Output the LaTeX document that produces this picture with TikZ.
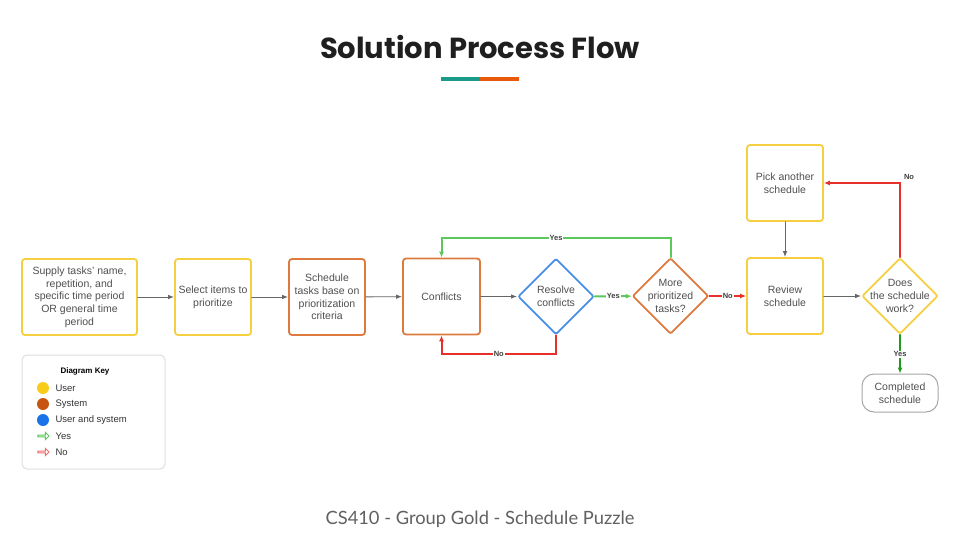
\documentclass[tikz,border=0pt]{standalone}
\usepackage{fontspec}
\setmainfont{Liberation Sans}
\newfontfamily\titlefont{Poppins}
\newfontfamily\footfont{Lato}
\usetikzlibrary{arrows.meta, shapes.geometric, shapes.arrows, positioning}

\definecolor{useryellow}{HTML}{F5CF40}
\definecolor{sysorange}{HTML}{DD7A3E}
\definecolor{bothblue}{HTML}{4A8FE7}
\definecolor{yesgreen}{HTML}{5CC75C}
\definecolor{nored}{HTML}{E8302A}
\definecolor{darkyes}{HTML}{1E9A1E}
\definecolor{txtgray}{HTML}{505050}
\definecolor{keyyellow}{HTML}{F8CC1B}
\definecolor{keyorange}{HTML}{C75512}
\definecolor{keyblue}{HTML}{1A73E8}
\definecolor{barteal}{HTML}{1A9A88}
\definecolor{barorange}{HTML}{E8590C}

\tikzset{
	box/.style={draw, rectangle, rounded corners=3pt, line width=1.8pt, minimum width=76pt, minimum height=76pt, align=center, text=txtgray, font=\fontsize{10.5}{12.7}\selectfont, inner sep=2pt},
	decision/.style={draw, diamond, rounded corners=2pt, line width=1.8pt, minimum width=76pt, minimum height=76pt, inner sep=0pt},
	inside/.style={align=center, text=txtgray, font=\fontsize{10.5}{12.7}\selectfont},
	flow/.style={draw=gray!80!black, line width=0.9pt, -{Latex[length=6pt,width=4.5pt]}},
	yesline/.style={draw=yesgreen, line width=2pt, -{Latex[length=6pt,width=5pt]}},
	noline/.style={draw=nored, line width=2pt, -{Latex[length=6pt,width=5pt]}},
	lbl/.style={font=\fontsize{7.5}{8}\selectfont\bfseries, text=black!75, fill=white, inner sep=1pt},
	dot/.style={circle, minimum size=12pt, inner sep=0pt},
	keytxt/.style={font=\fontsize{9.5}{10}\selectfont, text=black!80, anchor=west},
	keyarrow/.style={single arrow, draw, line width=0.9pt, fill=white, minimum height=11pt, minimum width=7pt, single arrow head extend=1.5pt, inner sep=0pt}
}

\begin{document}
\begin{tikzpicture}[x=1pt, y=-1pt, line cap=round]

\useasboundingbox[fill=white] (0,0) rectangle (960,540);

% Title
\node[font=\titlefont\bfseries\fontsize{29}{34}\selectfont, text=black!88] (title) at (480,47) {Solution Process Flow};
\draw[barteal, line width=4pt, line cap=butt] (441,79) -- (480,79);
\draw[barorange, line width=4pt, line cap=butt] (480,79) -- (519,79);

% Boxes
\node[box, draw=useryellow, minimum width=115pt] (supply) at (79.5,297) {Supply tasks' name,\\repetition, and\\specific time period\\OR general time\\period};
\node[box, draw=useryellow] (select) at (213,297) {Select items to\\prioritize};
\node[box, draw=sysorange] (sched) at (327,297) {Schedule\\tasks base on\\prioritization\\criteria};
\node[box, draw=sysorange, minimum width=77pt] (conf) at (441.5,296.5) {Conflicts};
\node[decision, draw=bothblue, label={[inside]center:Resolve\\conflicts}] (resolve) at (556,296.5) {};
\node[decision, draw=sysorange, label={[inside]center:More\\prioritized\\tasks?}] (more) at (670.5,296) {};
\node[box, draw=useryellow] (review) at (785,296) {Review\\schedule};
\node[box, draw=useryellow] (pick) at (785,183) {Pick another\\schedule};
\node[decision, draw=useryellow, label={[inside]center:Does\\the schedule\\work?}] (does) at (900,296) {};
\node[draw=gray!70, line width=1pt, rounded corners=12pt, minimum width=76pt, minimum height=38pt, align=center, text=txtgray, font=\fontsize{10.5}{12.7}\selectfont] (done) at (900,393) {Completed\\schedule};

% Paths
\draw[flow] (supply) -- (select);
\draw[flow] (select) -- (sched);
\draw[flow] (sched) -- (conf);
\draw[flow] (conf) -- (resolve);
\draw[yesline] (resolve) -- node[lbl]{Yes} (more);
\draw[noline] (more) -- node[lbl]{No} (review);
\draw[yesline] (more.north) -- ++(0,-19) -| node[lbl, pos=0.25]{Yes} (conf.north);
\draw[noline] (resolve.south) -- ++(0,19) -| node[lbl, pos=0.25]{No} (conf.south);
\draw[flow] (review) -- (does);
\draw[flow] (pick) -- (review);
\draw[noline] (does.north) |- node[lbl, pos=0.5, anchor=south west, fill=none, xshift=2pt, yshift=1pt]{No} (pick.east);
\draw[draw=darkyes, line width=2pt, -{Latex[length=6pt,width=5pt]}] (does.south) -- node[lbl]{Yes} (done.north);

% Diagram key
\draw[gray!25, line width=1pt, rounded corners=5pt] (22,355) rectangle (165,469);
\node[font=\fontsize{8}{9}\selectfont\bfseries] (keytitle) at (85,371) {Diagram Key};
\node[dot, fill=keyyellow] (kuser) at (43,388) {};
\node[dot, fill=keyorange] (ksys) at (43,404) {};
\node[dot, fill=keyblue] (kboth) at (43,420) {};
\node[keyarrow, draw=yesgreen] (kyes) at (43,436) {};
\node[keyarrow, draw=nored!70] (kno) at (43,452) {};
\node[keytxt] at (52,388) {User};
\node[keytxt] at (52,404) {System};
\node[keytxt] at (52,420) {User and system};
\node[keytxt] at (52,436) {Yes};
\node[keytxt] at (52,452) {No};

% Footer
\node[font=\footfont\fontsize{18.3}{22}\selectfont, text=txtgray!90] (footer) at (480,519) {CS410 - Group Gold - Schedule Puzzle};

\end{tikzpicture}
\end{document}
